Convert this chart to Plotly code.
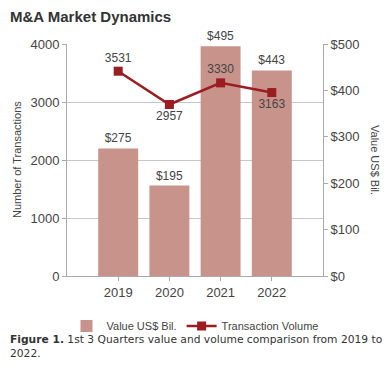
import plotly.graph_objects as go

years = ["2019", "2020", "2021", "2022"]
value_bil = [275, 195, 495, 443]
volume = [3531, 2957, 3330, 3163]
value_labels = ["$275", "$195", "$495", "$443"]
volume_labels = ["3531", "2957", "3330", "3163"]
volume_label_pos = ["top center", "bottom center", "top center", "bottom center"]
left_ticks = [0, 1000, 2000, 3000, 4000]
right_ticks = [0, 100, 200, 300, 400, 500]
right_tick_labels = ["$0", "$100", "$200", "$300", "$400", "$500"]

xs = list(range(len(years)))
txt = "#444444"
bar_color = "#C8938A"
line_color = "#9B1C21"
PW, PH = 256, 232
L, T = 59, 36  # plot area origin in figure coords (page has 8px body margin)

fig = go.Figure()
fig.add_trace(go.Bar(
    x=xs, y=value_bil, name="Value US$ Bil.", yaxis="y",
    marker=dict(color=bar_color, line=dict(width=0)),
    width=0.78, text=value_labels, textposition="outside",
    textfont=dict(size=12, color=txt, family="Liberation Sans"),
    cliponaxis=False,
))
fig.add_trace(go.Scatter(
    x=xs, y=volume, name="Transaction Volume", yaxis="y2",
    mode="lines+markers+text",
    line=dict(color=line_color, width=2.5),
    marker=dict(symbol="square", size=9, color=line_color),
    text=volume_labels, textposition=volume_label_pos,
    textfont=dict(size=12, color=txt, family="Liberation Sans"),
    cliponaxis=False,
))

fig.update_layout(
    width=382, height=372,
    margin=dict(l=L, r=382 - L - PW, t=T, b=372 - T - PH, autoexpand=False),
    paper_bgcolor="white", plot_bgcolor="white",
    font=dict(family="Liberation Sans", color=txt, size=12),
    showlegend=True,
    legend=dict(orientation="h", x=0.5, xanchor="center", y=-50/PH, yanchor="middle",
                font=dict(size=11, color=txt), traceorder="normal"),
    xaxis=dict(range=[-1, 4], tickmode="array", tickvals=xs, ticktext=years,
               showgrid=False, zeroline=False, showline=True, linecolor="#AAAAAA",
               ticks="outside", ticklen=4, tickcolor="#AAAAAA",
               tickfont=dict(size=13, color=txt)),
    yaxis=dict(range=[0, 500], tickvals=right_ticks, ticktext=right_tick_labels,
               side="right", showgrid=False, zeroline=False,
               showline=True, linecolor="#AAAAAA", ticks="outside", ticklen=4,
               tickcolor="#AAAAAA", tickfont=dict(size=13, color=txt)),
    yaxis2=dict(range=[0, 4000], tickvals=left_ticks, overlaying="y", side="left",
                showgrid=True, gridcolor="#C8C8C8", gridwidth=1, zeroline=False,
                showline=True, linecolor="#AAAAAA", ticks="outside", ticklen=4,
                tickcolor="#AAAAAA", tickfont=dict(size=13, color=txt)),
)

fig.add_annotation(text="<b>M&A Market Dynamics</b>", xref="paper", yref="paper",
                   x=-L/PW, y=1 + (T - 9)/PH, xanchor="left", yanchor="middle",
                   showarrow=False, font=dict(size=15, color="#333333", family="Liberation Sans"))
fig.add_annotation(text="Number of Transactions", xref="paper", yref="paper",
                   x=-50/PW, y=0.5, xanchor="center", yanchor="middle",
                   textangle=-90, showarrow=False, font=dict(size=11, color=txt))
fig.add_annotation(text="Value US$ Bil.", xref="paper", yref="paper",
                   x=1 + 52/PW, y=0.5, xanchor="center", yanchor="middle",
                   textangle=90, showarrow=False, font=dict(size=11, color=txt))
fig.add_annotation(text="<b>Figure 1.</b> 1st 3 Quarters value and volume comparison from 2019 to<br>2022.",
                   xref="paper", yref="paper", x=-L/PW, y=-(323 - 268) / PH,
                   xanchor="left", yanchor="top", align="left", showarrow=False,
                   font=dict(size=10.7, color="#333333", family="DejaVu Sans"))

fig.write_html("out.html")
